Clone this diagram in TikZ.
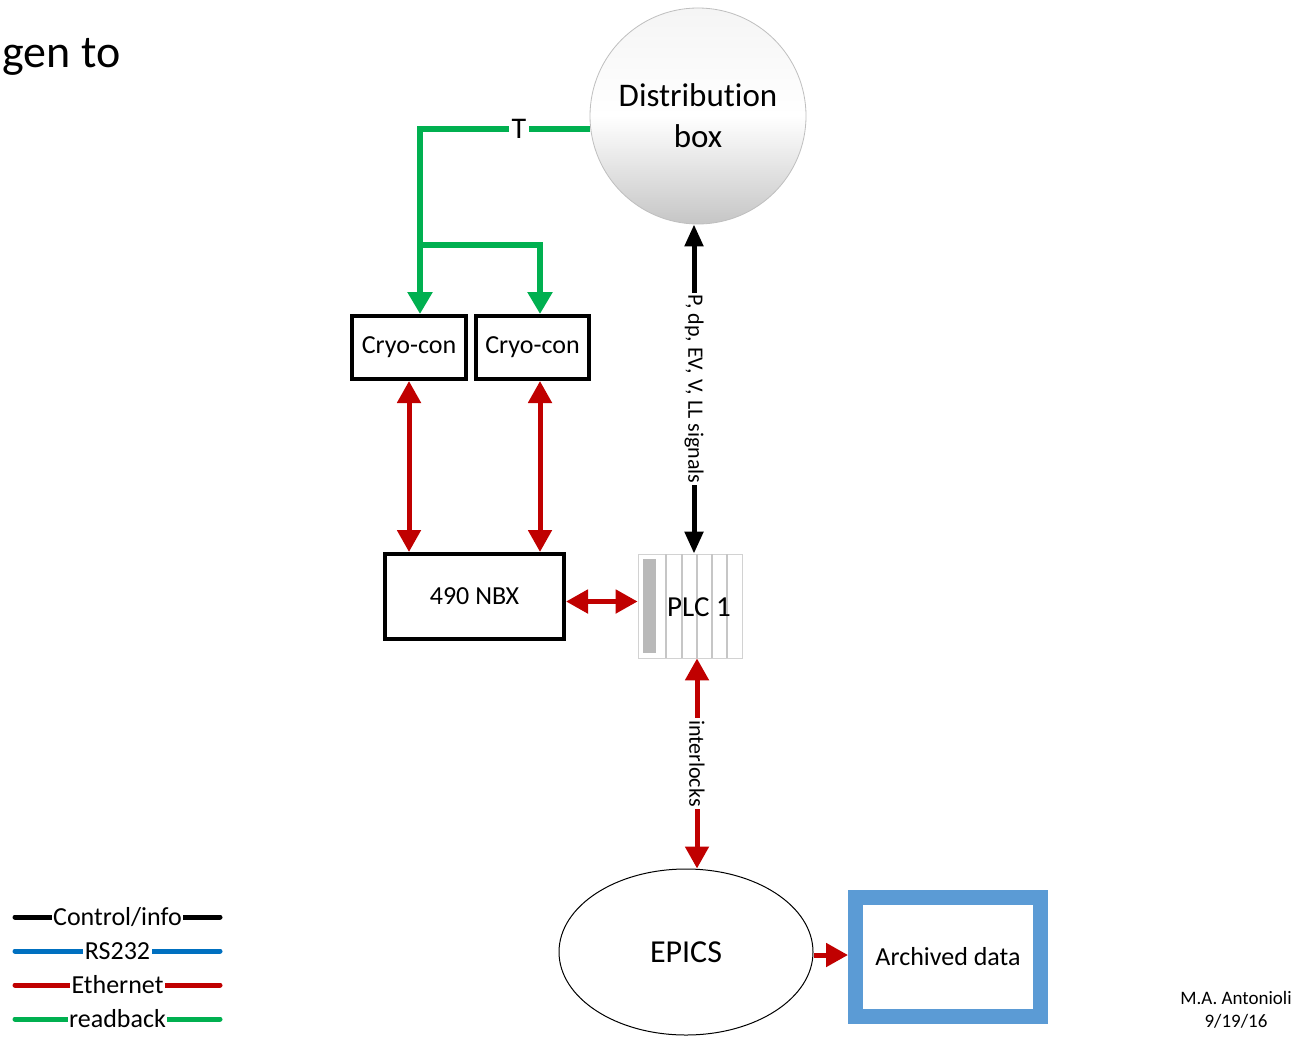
\documentclass[tikz,border=0pt]{standalone}
\usepackage{fontspec}
\setmainfont{Carlito}[Ligatures=NoCommon]
\usetikzlibrary{arrows.meta,shapes.geometric}
\definecolor{rbgreen}{RGB}{0,176,80}
\definecolor{ethred}{RGB}{192,0,0}
\definecolor{rsblue}{RGB}{0,112,192}
\definecolor{arblue}{RGB}{91,155,213}
\newcommand{\fsz}[2]{\fontsize{#1}{#2}\selectfont}
\tikzset{
  box/.style={draw,line width=2pt,fill=white,inner sep=0pt,font=\fsz{13}{15}},
  readback/.style={draw=rbgreen,line width=3pt,>={Triangle[length=11pt,width=12pt]}},
  ethernet/.style={draw=ethred,line width=2.5pt,>={Triangle[length=11pt,width=11.5pt]}},
  ctrl/.style={draw=black,line width=2.5pt,>={Triangle[length=11pt,width=9pt]}},
  tag/.style={fill=white,inner sep=1pt,rotate=-90,font=\fsz{11}{13}}
}
\begin{document}
\begin{tikzpicture}[x=0.5pt,y=-0.5pt,line join=miter]
\useasboundingbox[fill=white] (0,0) rectangle (1294,1038);
\node[anchor=base west,inner sep=0pt,font=\fsz{23}{27}] (title) at (2,68) {gen to};
\node[circle,draw=gray!50,top color=gray!8,bottom color=gray!45,middle color=white,
  minimum size=108pt,inner sep=0pt,align=center,font=\fsz{16.5}{20.5}] (dist) at (698,116) {Distribution\\box};
\node[box,minimum width=57pt,minimum height=31.5pt] (cryoA) at (409,347.5) {Cryo-con};
\node[box,minimum width=56.5pt,minimum height=31.5pt] (cryoB) at (532.5,347.5) {Cryo-con};
\node[box,minimum width=89.5pt,minimum height=42.5pt] (nbx) at (474.5,596.5) {490 NBX};
\node[draw=gray!35,fill=white,minimum size=52pt,inner sep=0pt] (plc) at (690,606) {};
\fill[gray!55] (643,559) rectangle (656,653);
\foreach \x in {666,682,697,712,727}
  \draw[gray!45,line width=0.6pt] (\x,554) -- (\x,658);
\node[font=\fsz{14.5}{17}] (plclbl) at (699,607) {PLC 1};
\node[ellipse,draw,line width=0.5pt,minimum width=127pt,minimum height=83pt,font=\fsz{16}{19}] (epics) at (686,952) {EPICS};
\node[draw=arblue,line width=7.5pt,minimum width=92.5pt,minimum height=59.5pt,font=\fsz{13}{15}] (arch) at (948,957) {Archived data};
\coordinate (tee) at (420,245);
\coordinate (split) at (540,245);
\draw[readback,->] (dist.187) -| (tee) node[pos=0.21,fill=white,inner sep=1.5pt,font=\fsz{15}{17}] (tlbl) {T} -- (tee |- cryoA.north);
\draw[readback,->] (tee) -- (split) -- (split |- cryoB.north);
\draw[ethernet,<->] (cryoA.south) -- (cryoA.south |- nbx.north);
\draw[ethernet,<->] (split |- cryoB.south) -- (split |- nbx.north);
\draw[ethernet,<->] ([yshift=-2.5pt]nbx.east) -- ([yshift=-2.5pt]nbx.east -| plc.west);
\draw[ctrl,<->] ([xshift=-2pt]dist.south) -- ([xshift=-2pt]dist.south |- plc.north) node[midway,tag] (siglbl) {P, dp, EV, V, LL signals};
\draw[ethernet,<->] ([xshift=3.5pt]plc.south) -- ([xshift=3.5pt]plc.south |- epics.north) node[midway,tag] (ilbl) {interlocks};
\draw[ethernet,->] ([yshift=-1.5pt]epics.east) -- ([yshift=-1.5pt]epics.east -| arch.west);
\foreach \c/\t [count=\i] in {black/{Control/info},rsblue/RS232,ethred/Ethernet,rbgreen/readback}
  \draw[\c,line width=2.5pt,line cap=round] (15,883+34*\i) -- (220,883+34*\i)
    node[midway,fill=white,text=black,inner sep=0.8pt,font=\fsz{13}{15}] (leg\i) {\t};
\node[align=center,font=\fsz{9.5}{11.5}] (sig) at (1236,1010) {M.A. Antonioli\\9/19/16};
\end{tikzpicture}
\end{document}
